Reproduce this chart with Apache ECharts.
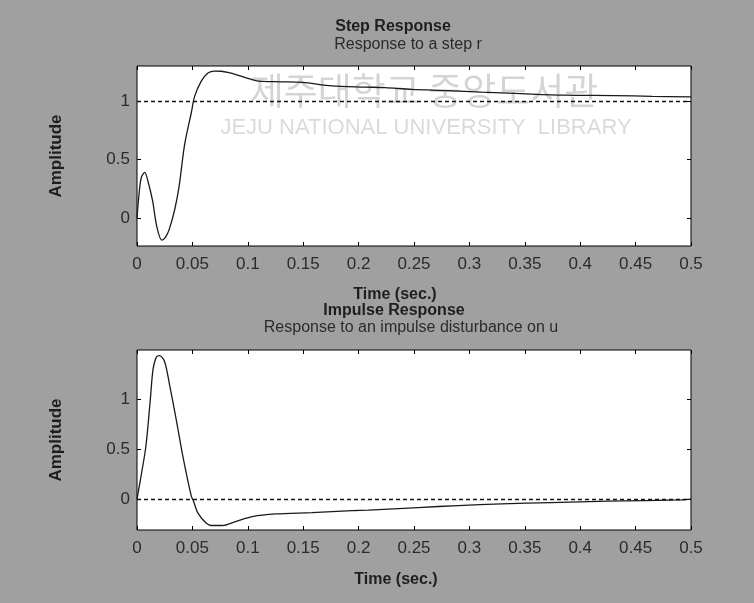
<!DOCTYPE html>
<html><head><meta charset="utf-8">
<script src="https://cdn.jsdelivr.net/npm/echarts@6/dist/echarts.min.js"></script>
<style>html,body{margin:0;padding:0;background:#a0a0a0}#c{width:754px;height:603px}</style>
</head><body><div id="c"></div>
<script>
// ---- data ----
const xTicks = [0, 0.05, 0.1, 0.15, 0.2, 0.25, 0.3, 0.35, 0.4, 0.45, 0.5];
const yTicks = [0, 0.5, 1];

const stepT = [0, 0.002, 0.004, 0.007, 0.010, 0.014, 0.018, 0.0225, 0.026, 0.029, 0.034, 0.038, 0.043, 0.049, 0.052, 0.058, 0.064, 0.070, 0.076, 0.082, 0.090, 0.098, 0.110, 0.130, 0.149, 0.176, 0.206, 0.224, 0.248, 0.280, 0.311, 0.347, 0.386, 0.431, 0.465, 0.500];
const stepV = [0, 0.22, 0.35, 0.39, 0.31, 0.15, -0.08, -0.19, -0.16, -0.10, 0.07, 0.27, 0.63, 0.90, 1.04, 1.17, 1.24, 1.257, 1.255, 1.245, 1.225, 1.20, 1.17, 1.165, 1.16, 1.13, 1.12, 1.115, 1.10, 1.09, 1.077, 1.063, 1.05, 1.047, 1.04, 1.035];

const impT = [0, 0.003, 0.008, 0.012, 0.0144, 0.0174, 0.0204, 0.025, 0.0294, 0.0354, 0.0414, 0.049, 0.051, 0.055, 0.0624, 0.067, 0.077, 0.089, 0.104, 0.125, 0.158, 0.194, 0.209, 0.254, 0.290, 0.329, 0.374, 0.425, 0.491, 0.5];
const impV = [0, 0.19, 0.53, 1.0, 1.30, 1.427, 1.443, 1.38, 1.15, 0.80, 0.43, 0.03, -0.02, -0.14, -0.24, -0.265, -0.265, -0.225, -0.175, -0.148, -0.135, -0.115, -0.11, -0.084, -0.064, -0.047, -0.034, -0.02, -0.007, 0];

const stepRef = 1;
const impRef = 0;
const stepRange = [-0.24, 1.3];
const impRange = [-0.31, 1.5];

// ---- chart ----
const FONT = 'Liberation Sans, Arial, sans-serif';
const chart = echarts.init(document.getElementById('c'), null, {renderer: 'canvas'});
const fmt = v => String(+(+v).toFixed(2));

function xAxes(gi) {
  return [
    {gridIndex: gi, type: 'value', position: 'bottom', min: 0, max: 0.5, interval: 0.05,
     axisLine: {show: false, onZero: false}, splitLine: {show: false},
     axisTick: {inside: true, length: 4, lineStyle: {color: '#000'}, customValues: xTicks},
     axisLabel: {customValues: xTicks, formatter: fmt, margin: 10, color: '#2b2b2b', fontSize: 17, fontFamily: FONT}},
    {gridIndex: gi, type: 'value', position: 'top', min: 0, max: 0.5, interval: 0.05,
     axisLine: {show: false, onZero: false}, splitLine: {show: false},
     axisTick: {inside: true, length: 4, lineStyle: {color: '#000'}, customValues: xTicks},
     axisLabel: {show: false}}
  ];
}
function yAxes(gi, r) {
  return [
    {gridIndex: gi, type: 'value', position: 'left', min: r[0], max: r[1],
     axisLine: {show: false, onZero: false}, splitLine: {show: false},
     axisTick: {inside: true, length: 4, lineStyle: {color: '#000'}, customValues: yTicks},
     axisLabel: {customValues: yTicks, formatter: fmt, margin: 7, color: '#2b2b2b', fontSize: 17, fontFamily: FONT},
     name: 'Amplitude', nameLocation: 'middle', nameGap: 72, nameRotate: 90,
     nameTextStyle: {fontSize: 17, fontWeight: 'bold', color: '#1e1e1e', fontFamily: FONT}},
    {gridIndex: gi, type: 'value', position: 'right', min: r[0], max: r[1],
     axisLine: {show: false, onZero: false}, splitLine: {show: false},
     axisTick: {inside: true, length: 4, lineStyle: {color: '#000'}, customValues: yTicks},
     axisLabel: {show: false}}
  ];
}
function curve(xi, yi, t, v, ref) {
  return {
    type: 'line', xAxisIndex: xi, yAxisIndex: yi, data: t.map((x, i) => [x, v[i]]),
    showSymbol: false, smooth: 0.3, lineStyle: {color: '#1a1a1a', width: 1.3}, silent: true, z: 3,
    markLine: {silent: true, symbol: 'none', label: {show: false},
      lineStyle: {color: '#111', width: 1.3, type: [4, 3]}, data: [{yAxis: ref}]}
  };
}
const txt = (x, y, s, size, weight, color, font) => ({
  type: 'text', x: x, y: y,
  style: {text: s, fontSize: size, fontWeight: weight || 'normal', fill: color || '#1e1e1e',
    fontFamily: font || FONT, align: 'center', verticalAlign: 'middle'}
});

chart.setOption({
  backgroundColor: '#a0a0a0',
  animation: false,
  grid: [
    {left: 137, top: 66, width: 554, height: 180, show: true, backgroundColor: '#fff', borderColor: '#000', borderWidth: 1},
    {left: 137, top: 350, width: 554, height: 180, show: true, backgroundColor: '#fff', borderColor: '#000', borderWidth: 1}
  ],
  xAxis: [...xAxes(0), ...xAxes(1)],
  yAxis: [...yAxes(0, stepRange), ...yAxes(1, impRange)],
  series: [curve(0, 0, stepT, stepV, stepRef), curve(2, 2, impT, impV, impRef)],
  graphic: [
    txt(424, 91, '제주대학교 중앙도서관', 37, 'normal', 'rgba(0,0,0,0.17)', 'Noto Sans CJK KR'),
    txt(426, 128, 'JEJU NATIONAL UNIVERSITY  LIBRARY', 22, 'normal', 'rgba(0,0,0,0.15)', 'Liberation Sans Narrow, Liberation Sans, sans-serif'),
    txt(393, 27, 'Step Response', 16, 'bold'),
    txt(408, 45, 'Response to a step r', 16, 'normal', '#2b2b2b'),
    txt(395, 295, 'Time (sec.)', 16, 'bold'),
    txt(394, 311, 'Impulse Response', 16, 'bold'),
    txt(411, 328, 'Response to an impulse disturbance on u', 16, 'normal', '#2b2b2b'),
    txt(396, 580, 'Time (sec.)', 16, 'bold')
  ]
});
</script></body></html>
